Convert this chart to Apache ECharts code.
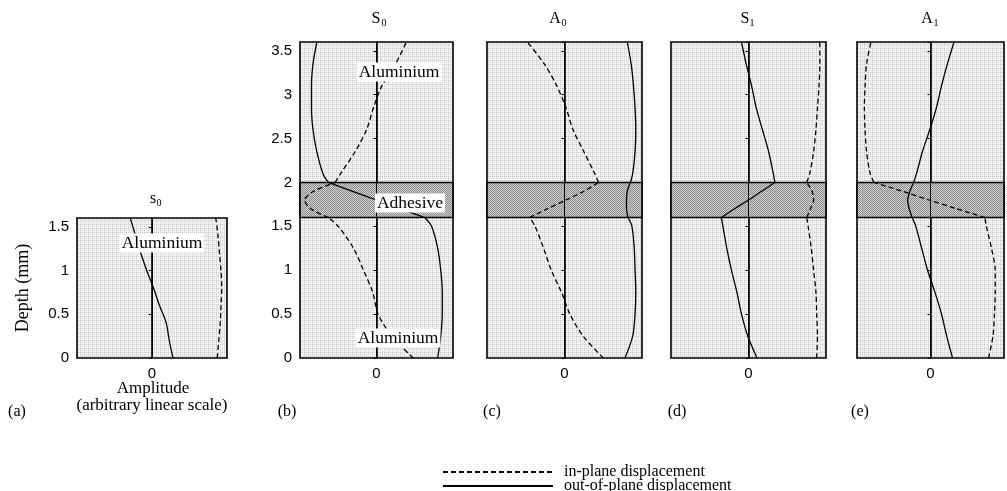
<!DOCTYPE html>
<html>
<head>
<meta charset="utf-8">
<script src="https://cdn.jsdelivr.net/npm/echarts@6.0.0/dist/echarts.min.js"></script>
<style>
  html, body { margin: 0; padding: 0; background: #fff; }
  #chart { width: 1007px; height: 491px; }
</style>
</head>
<body>
<div id="chart"></div>
<script>
// ---- Mode shapes through the thickness (amplitude, arbitrary linear scale) ----

// (a) single 1.6 mm aluminium plate, s0 mode
const depthPlate   = [0, 0.2, 0.4, 0.6, 0.8, 1.0, 1.2, 1.4, 1.6];
const s0PlateOut   = [0.28, 0.23, 0.19, 0.10, 0.02, -0.07, -0.15, -0.22, -0.29];
const s0PlateIn    = [0.87, 0.89, 0.91, 0.92, 0.93, 0.92, 0.90, 0.88, 0.85];

// (b)-(e) aluminium / adhesive / aluminium joint
const depthLower   = [0, 0.25, 0.5, 0.75, 1.0, 1.25, 1.5, 1.6];
const depthBond    = [1.6, 1.7, 1.8, 1.9, 2.0];
const depthUpper   = [2.0, 2.1, 2.35, 2.6, 2.85, 3.1, 3.35, 3.6];

const S0OutLower = [0.80, 0.84, 0.86, 0.86, 0.84, 0.80, 0.72, 0.63];
const S0OutBond  = [0.63, 0.32, 0.0, -0.32, -0.63];
const S0OutUpper = [-0.63, -0.70, -0.78, -0.83, -0.85, -0.85, -0.83, -0.78];
const S0InLower  = [0.48, 0.20, 0.02, -0.05, -0.17, -0.30, -0.50, -0.63];
const S0InBond   = [-0.63, -0.86, -0.94, -0.82, -0.54];
const S0InUpper  = [-0.54, -0.47, -0.28, -0.13, -0.04, 0.07, 0.25, 0.39];

const A0OutLower = [0.78, 0.88, 0.91, 0.92, 0.91, 0.90, 0.87, 0.82];
const A0OutBond  = [0.82, 0.80, 0.80, 0.81, 0.85];
const A0OutUpper = [0.85, 0.88, 0.91, 0.92, 0.91, 0.89, 0.86, 0.81];
const A0InLower  = [0.50, 0.24, 0.07, -0.04, -0.17, -0.27, -0.38, -0.45];
const A0InBond   = [-0.45, -0.22, 0.02, 0.25, 0.44];
const A0InUpper  = [0.44, 0.39, 0.25, 0.11, 0.02, -0.10, -0.26, -0.48];

const S1OutLower = [0.11, -0.01, -0.09, -0.15, -0.22, -0.28, -0.33, -0.35];
const S1OutBond  = [-0.35, -0.18, 0.0, 0.17, 0.34];
const S1OutUpper = [0.34, 0.32, 0.26, 0.18, 0.10, 0.04, -0.03, -0.09];
const S1InLower  = [0.88, 0.89, 0.88, 0.87, 0.84, 0.81, 0.77, 0.75];
const S1InBond   = [0.75, 0.80, 0.84, 0.82, 0.75];
const S1InUpper  = [0.75, 0.79, 0.84, 0.87, 0.89, 0.91, 0.92, 0.92];

const A1OutLower = [0.30, 0.22, 0.15, 0.06, -0.04, -0.12, -0.20, -0.25];
const A1OutBond  = [-0.25, -0.29, -0.31, -0.28, -0.23];
const A1OutUpper = [-0.23, -0.19, -0.11, -0.01, 0.08, 0.15, 0.23, 0.32];
const A1InLower  = [0.79, 0.85, 0.87, 0.88, 0.88, 0.83, 0.76, 0.74];
const A1InBond   = [0.74, 0.36, -0.02, -0.38, -0.77];
const A1InUpper  = [-0.77, -0.82, -0.87, -0.89, -0.90, -0.89, -0.87, -0.81];

const adhesiveLayer = [1.6, 2.0];
const zeroAmplitude = 0;

// ---- helpers ----
const SERIF = '"Liberation Serif", "Times New Roman", serif';
const SANS = '"Liberation Sans", Arial, sans-serif';

function pairs(depths, amps) {
  return depths.map((d, i) => [amps[i], d]);
}
// each layer is smoothed on its own; the layers meet at the interfaces
function layered(lower, bond, upper) {
  const gap = ['-', '-'];
  return [].concat(pairs(depthLower, lower), [gap], pairs(depthBond, bond), [gap], pairs(depthUpper, upper));
}

// halftone-like fills for the plate and the adhesive
function tile(size, base, ink, marks) {
  const c = document.createElement('canvas');
  c.width = size; c.height = size;
  const g = c.getContext('2d');
  g.fillStyle = base; g.fillRect(0, 0, size, size);
  g.fillStyle = ink;
  marks.forEach(([x, y]) => g.fillRect(x, y, 1, 1));
  return c;
}
const plateFill = { image: tile(4, '#f0f0f0', '#c4c4c4', [[0, 0], [2, 0], [0, 2]]), repeat: 'repeat' };
const bondFill  = { image: tile(2, '#cdcdcd', '#8e8e8e', [[0, 0], [1, 1]]), repeat: 'repeat' };

const panels = [
  { box: { left: 77,  top: 218, width: 150, height: 140 }, ymax: 1.6, labels: true,  bonded: false,
    inPlane: pairs(depthPlate, s0PlateIn), outPlane: pairs(depthPlate, s0PlateOut) },
  { box: { left: 300, top: 42, width: 153, height: 316 }, ymax: 3.6, labels: true,  bonded: true,
    inPlane: layered(S0InLower, S0InBond, S0InUpper), outPlane: layered(S0OutLower, S0OutBond, S0OutUpper) },
  { box: { left: 487, top: 42, width: 155, height: 316 }, ymax: 3.6, labels: false, bonded: true,
    inPlane: layered(A0InLower, A0InBond, A0InUpper), outPlane: layered(A0OutLower, A0OutBond, A0OutUpper) },
  { box: { left: 671, top: 42, width: 155, height: 316 }, ymax: 3.6, labels: false, bonded: true,
    inPlane: layered(S1InLower, S1InBond, S1InUpper), outPlane: layered(S1OutLower, S1OutBond, S1OutUpper) },
  { box: { left: 857, top: 42, width: 156, height: 316 }, ymax: 3.6, labels: false, bonded: true,
    inPlane: layered(A1InLower, A1InBond, A1InUpper), outPlane: layered(A1OutLower, A1OutBond, A1OutUpper) }
];

const grid = [], xAxis = [], yAxis = [], series = [];
panels.forEach((p, i) => {
  grid.push(Object.assign({ show: true, backgroundColor: plateFill, borderColor: '#000', borderWidth: 1.6 }, p.box));
  xAxis.push({
    type: 'value', gridIndex: i, min: -1, max: 1, interval: 1,
    axisLine: { show: false }, axisTick: { show: false }, splitLine: { show: false },
    axisLabel: { formatter: v => (v === 0 ? '0' : ''), color: '#000', fontFamily: SANS, fontSize: 15, margin: 8 }
  });
  yAxis.push({
    type: 'value', gridIndex: i, min: 0, max: p.ymax, interval: 0.5,
    axisLine: { show: true, lineStyle: { color: '#000', width: 1.6 } },
    axisTick: { show: true, inside: false, length: 3, lineStyle: { color: '#000', width: 1 } },
    splitLine: { show: false },
    axisLabel: { show: p.labels, showMaxLabel: false, color: '#000', fontFamily: SANS, fontSize: 15, margin: 8 }
  });
  if (p.bonded) {
    series.push({
      type: 'line', name: 'adhesive', xAxisIndex: i, yAxisIndex: i, data: [], z: 1, silent: true,
      markArea: {
        silent: true,
        itemStyle: { color: bondFill, borderColor: '#000', borderWidth: 1.6 },
        data: [[{ yAxis: adhesiveLayer[0] }, { yAxis: adhesiveLayer[1] }]]
      }
    });
  }
  series.push({
    type: 'line', name: 'zero', xAxisIndex: i, yAxisIndex: i, data: [], z: 2, silent: true,
    markLine: {
      silent: true, symbol: ['none', 'none'], label: { show: false },
      lineStyle: { color: '#000', width: 1, type: 'solid' },
      data: [{ xAxis: zeroAmplitude }]
    }
  });
  series.push({
    type: 'line', name: 'in-plane displacement', xAxisIndex: i, yAxisIndex: i,
    data: p.inPlane, smooth: 0.3, symbol: 'none', z: 3, connectNulls: false,
    lineStyle: { color: '#000', width: 1.3, type: [5, 3] }, itemStyle: { color: '#000' }
  });
  series.push({
    type: 'line', name: 'out-of-plane displacement', xAxisIndex: i, yAxisIndex: i,
    data: p.outPlane, smooth: 0.3, symbol: 'none', z: 3, connectNulls: false,
    lineStyle: { color: '#000', width: 1.3, type: 'solid' }, itemStyle: { color: '#000' }
  });
});

function txt(text, x, y, size, extra) {
  return {
    type: 'text', x: x, y: y, z: 100,
    style: Object.assign({ text: text, font: size + 'px ' + SERIF, fill: '#000', align: 'center', verticalAlign: 'middle' }, extra || {})
  };
}
function layerLabel(text, x, y) {
  return txt(text, x, y, 17.5, { backgroundColor: '#fff', padding: [1, 2, 0, 2] });
}

const graphic = [
  // mode titles with subscripts
  txt('s', 153, 199, 16), txt('0', 159, 203, 10),
  txt('S', 376, 19, 16), txt('0', 384, 23, 10),
  txt('A', 555, 19, 16), txt('0', 564, 23, 10),
  txt('S', 745, 19, 16), txt('1', 752, 23, 10),
  txt('A', 927, 19, 16), txt('1', 936, 23, 10),
  // layer names
  layerLabel('Aluminium', 162, 243),
  layerLabel('Aluminium', 399, 72),
  layerLabel('Adhesive', 410, 203),
  layerLabel('Aluminium', 398, 338),
  // axis titles
  Object.assign(txt('Depth (mm)', 23, 288, 18), { rotation: Math.PI / 2 }),
  txt('Amplitude', 153, 389, 17),
  txt('(arbitrary linear scale)', 152, 406, 17),
  // panel letters
  txt('(a)', 17, 412, 16), txt('(b)', 287, 412, 16), txt('(c)', 492, 412, 16),
  txt('(d)', 677, 412, 16), txt('(e)', 860, 412, 16)
];

function legendRow(name, top) {
  return {
    data: [name], orient: 'vertical', left: 442, top: top, padding: 0,
    itemWidth: 110, itemHeight: 14, selectedMode: false,
    itemStyle: { color: 'rgba(0,0,0,0)', borderWidth: 0 },
    textStyle: { fontFamily: SERIF, fontSize: 16, color: '#000', padding: [0, 0, 0, 6] }
  };
}

const chart = echarts.init(document.getElementById('chart'), null, { renderer: 'canvas' });
chart.setOption({
  animation: false,
  backgroundColor: '#fff',
  grid, xAxis, yAxis, series, graphic,
  legend: [
    legendRow('in-plane displacement', 464),
    legendRow('out-of-plane displacement', 478)
  ]
});
</script>
</body>
</html>
